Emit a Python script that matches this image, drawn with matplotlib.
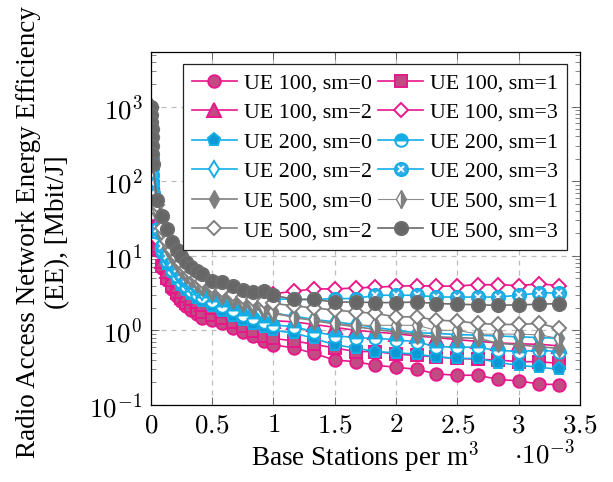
import numpy as np
import matplotlib
matplotlib.use("Agg")
import matplotlib.pyplot as plt
from matplotlib.ticker import FixedLocator, FuncFormatter, LogLocator, NullFormatter

plt.rcParams['font.family'] = ['Liberation Serif', 'DejaVu Serif']
plt.rcParams['mathtext.fontset'] = 'cm'

# base stations per m^3 (x 1e-3)
bs_density = [0.003, 0.004, 0.005, 0.006, 0.008, 0.010, 0.013, 0.018,
              0.05, 0.09, 0.13, 0.17, 0.21, 0.25, 0.29, 0.33, 0.375, 0.42,
              0.50, 0.58, 0.67, 0.75, 0.83, 0.92, 1.00,
              1.17, 1.33, 1.50, 1.67, 1.83, 2.00, 2.17, 2.33, 2.50, 2.67, 2.83, 3.00, 3.17, 3.33]

# energy efficiency [Mbit/J]
ue100_sm0 = [200, 150, 120, 100, 75, 60, 46, 33,
             12, 6.8, 4.7, 3.6, 2.9, 2.45, 2.1, 1.85, 1.65, 1.48,
             1.37, 1.24, 1.06, 0.94, 0.83, 0.71, 0.64,
             0.58, 0.49, 0.40, 0.38, 0.34, 0.32, 0.30, 0.26, 0.25, 0.25, 0.22, 0.21, 0.19, 0.187]
ue100_sm1 = [200, 150, 120, 100, 75, 60, 46, 33,
             12.5, 7.2, 5.0, 3.9, 3.2, 2.7, 2.35, 2.1, 1.9, 1.77,
             1.6, 1.45, 1.3, 1.15, 0.97, 0.85, 0.78,
             0.72, 0.65, 0.58, 0.52, 0.52, 0.48, 0.46, 0.44, 0.42, 0.41, 0.40, 0.38, 0.38, 0.36]
ue100_sm2 = [200, 150, 120, 100, 76, 61, 47, 34,
             14, 8.5, 6.2, 4.9, 4.0, 3.4, 3.0, 2.7, 2.45, 2.25,
             2.05, 1.9, 1.75, 1.6, 1.5, 1.42, 1.35,
             1.3, 1.2, 1.1, 1.0, 0.95, 0.9, 0.84, 0.8, 0.75, 0.71, 0.68, 0.66, 0.65, 0.62]
ue100_sm3 = [200, 151, 121, 101, 77, 62, 48, 36,
             17, 11, 8.5, 7.0, 6.0, 5.2, 4.7, 4.3, 4.0, 3.8,
             3.6, 3.45, 3.35, 3.25, 3.2, 3.15, 3.1,
             3.35, 3.6, 3.6, 3.7, 3.8, 3.9, 4.0, 3.9, 3.95, 4.1, 4.1, 4.0, 4.2, 4.0]

ue200_sm0 = [400, 300, 240, 200, 150, 120, 92, 67,
             20, 11, 7.8, 6.0, 4.9, 4.1, 3.5, 3.1, 2.75, 2.45,
             2.1, 1.8, 1.55, 1.38, 1.22, 1.1, 1.0,
             0.92, 0.78, 0.64, 0.58, 0.52, 0.50, 0.48, 0.44, 0.42, 0.42, 0.37, 0.34, 0.32, 0.30]
ue200_sm1 = [400, 300, 240, 200, 150, 120, 92, 67,
             21, 12, 8.4, 6.5, 5.3, 4.5, 3.9, 3.4, 3.1, 2.8,
             2.45, 2.1, 1.85, 1.6, 1.45, 1.3, 1.18,
             1.12, 0.96, 0.85, 0.8, 0.78, 0.75, 0.7, 0.6, 0.6, 0.59, 0.54, 0.52, 0.54, 0.52]
ue200_sm2 = [400, 301, 241, 201, 151, 121, 93, 68,
             22, 12.8, 9.2, 7.2, 6.0, 5.1, 4.5, 4.0, 3.6, 3.3,
             2.95, 2.65, 2.4, 2.2, 2.0, 1.85, 1.7,
             1.55, 1.4, 1.3, 1.2, 1.1, 1.0, 0.93, 0.91, 0.88, 0.86, 0.84, 0.82, 0.8, 0.78]
ue200_sm3 = [400, 302, 242, 202, 152, 122, 95, 70,
             23, 13.7, 10, 8.0, 6.6, 5.6, 4.9, 4.4, 4.0, 3.7,
             3.45, 3.25, 3.05, 2.9, 2.8, 2.7, 2.65,
             2.6, 2.6, 2.67, 2.67, 2.96, 2.96, 2.96, 2.8, 2.8, 2.8, 2.8, 2.96, 3.18, 3.18]

ue500_sm0 = [1000, 780, 630, 500, 390, 300, 230, 170,
             38, 19, 13, 10, 8.0, 6.6, 5.6, 4.9, 4.3, 3.8,
             3.3, 2.9, 2.55, 2.3, 2.05, 1.85, 1.7,
             1.5, 1.35, 1.22, 1.12, 1.03, 0.95, 0.88, 0.82, 0.8, 0.78, 0.67, 0.64, 0.6, 0.575]
ue500_sm1 = [1000, 780, 630, 500, 390, 300, 230, 170,
             42, 21, 14.5, 11, 8.8, 7.3, 6.2, 5.4, 4.8, 4.2,
             3.7, 3.25, 2.85, 2.55, 2.3, 2.05, 1.8,
             1.45, 1.4, 1.24, 1.17, 1.17, 1.17, 1.17, 1.0, 1.0, 0.89, 0.89, 0.89, 0.87, 0.78]
ue500_sm2 = [1000, 780, 630, 500, 390, 300, 230, 170,
             48, 24, 16, 12, 9.6, 8.0, 6.8, 5.9, 5.2, 4.6,
             4.0, 3.5, 3.1, 2.8, 2.6, 2.45, 2.3,
             2.13, 2.0, 1.87, 1.77, 1.69, 1.52, 1.52, 1.37, 1.33, 1.24, 1.2, 1.2, 1.24, 1.06]
ue500_sm3 = [1000, 780, 630, 500, 390, 300, 230, 170,
             57, 34, 23, 15.2, 11.8, 10, 8.2, 7.0, 6.3, 5.75,
             4.6, 4.45, 3.9, 3.45, 3.28, 3.34, 2.96,
             2.6, 2.6, 2.4, 2.4, 2.36, 2.36, 2.4, 2.29, 2.25, 2.2, 2.17, 2.2, 2.24, 2.29]

pink = '#E8178A'
pink_face = '#C24B84'
blue = '#14AEE6'
blue_face = '#0B98D4'
gray = '#7F7F7F'
gray_dark = '#6A6A6A'

fig = plt.figure(figsize=(6.13, 4.82), dpi=100)
ax = fig.add_axes([0.246, 0.160, 0.700, 0.732])

lw = 1.2
handles = []
labels = []

def add(y, label, extra=None, **kw):
    l, = ax.plot(bs_density, y, lw=kw.pop('lw', lw), **kw)
    if extra is not None:
        e, = ax.plot(bs_density, y, ls='none', **extra)
        handles.append((l, e))
    else:
        handles.append(l)
    labels.append(label)

add(ue100_sm0, 'UE 100, sm=0', color=pink, marker='o', ms=9, mfc=pink_face, mec=pink, mew=1.4)
add(ue100_sm1, 'UE 100, sm=1', color=pink, marker='s', ms=8.3, mfc=pink_face, mec=pink, mew=1.4)
add(ue100_sm2, 'UE 100, sm=2', color=pink, marker='^', ms=9.5, mfc=pink_face, mec=pink, mew=1.4)
add(ue100_sm3, 'UE 100, sm=3', color=pink, marker='D', ms=6.8, mfc='white', mec=pink, mew=1.4)
add(ue200_sm0, 'UE 200, sm=0', color=blue, marker='p', ms=9.5, mfc=blue_face, mec=blue, mew=1.4)
add(ue200_sm1, 'UE 200, sm=1', color=blue, marker='o', ms=9, fillstyle='top', mfc=blue,
    markerfacecoloralt='white', mec=blue, mew=1.4)
add(ue200_sm2, 'UE 200, sm=2', color=blue, marker='d', ms=8, mfc='white', mec=blue, mew=1.4)
add(ue200_sm3, 'UE 200, sm=3', color=blue, marker='o', ms=9.5, mfc='#33ADE3', mec=blue, mew=1.4,
    extra=dict(marker='x', ms=5, mec='white', mew=1.3))
add(ue500_sm0, 'UE 500, sm=0', color=gray, marker='d', ms=9, mfc=gray, mec=gray, mew=1.0)
add(ue500_sm1, 'UE 500, sm=1', color='#8C8C8C', marker='d', ms=9, fillstyle='right', mfc=gray,
    markerfacecoloralt='white', mec=gray, mew=1.0, lw=0.8)
add(ue500_sm2, 'UE 500, sm=2', color=gray, marker='D', ms=7.2, mfc='white', mec=gray, mew=1.4)
add(ue500_sm3, 'UE 500, sm=3', color=gray_dark, marker='o', ms=9.5, mfc='#676767', mec='#6E6E6E', mew=1.4)

ax.set_yscale('log')
ax.set_xlim(0, 3.5)
ax.set_ylim(1e-1, 10 ** 3.735)

ax.xaxis.set_major_locator(FixedLocator(np.arange(0, 3.51, 0.5)))
ax.xaxis.set_major_formatter(FuncFormatter(lambda v, p: '$%g$' % v))
ax.yaxis.set_major_locator(FixedLocator([1e-1, 1e0, 1e1, 1e2, 1e3]))
ax.yaxis.set_major_formatter(FuncFormatter(lambda v, p: '$10^{%d}$' % round(np.log10(v))))
ax.yaxis.set_minor_locator(LogLocator(base=10, subs=np.arange(2, 10)))
ax.yaxis.set_minor_formatter(NullFormatter())

ax.tick_params(which='both', direction='in', top=True, right=True, labelsize=19.5, color='#555555')
ax.tick_params(which='major', length=6, width=0.6, pad=6)
ax.tick_params(which='minor', length=3.5, width=0.5)
ax.grid(True, which='major', ls=(0, (4, 4)), color='#BDBDBD', lw=0.9)
ax.set_axisbelow(True)
for s in ax.spines.values():
    s.set_linewidth(0.9)

ax.set_xlabel('Base Stations per m$^{3}$', fontsize=19.5, labelpad=1)
ax.text(0.918, -0.14, r'$\cdot 10^{-3}$', transform=ax.transAxes, fontsize=19.5,
        ha='center', va='center')
fig.text(29 / 613, 1 - 232 / 482, 'Radio Access Network Energy Efficiency', rotation=90,
         fontsize=19.5, ha='center', va='center')
fig.text(58 / 613, 1 - 232 / 482, '(EE), [Mbit/J]', rotation=90,
         fontsize=19.5, ha='center', va='center')

# row-wise legend order (sm0|sm1, sm2|sm3 ...)
order = list(range(0, 12, 2)) + list(range(1, 12, 2))
leg = ax.legend([handles[i] for i in order], [labels[i] for i in order], ncol=2,
                loc='upper right', bbox_to_anchor=(0.970, 0.966),
                borderaxespad=0, fontsize=15.8, handlelength=2.05, handletextpad=0.32,
                columnspacing=0.28, labelspacing=0.42, borderpad=0.4, fancybox=False,
                framealpha=1, edgecolor='#222222')
leg.get_frame().set_linewidth(0.9)
leg.set_zorder(5)

fig.savefig('out.png', dpi=100)
